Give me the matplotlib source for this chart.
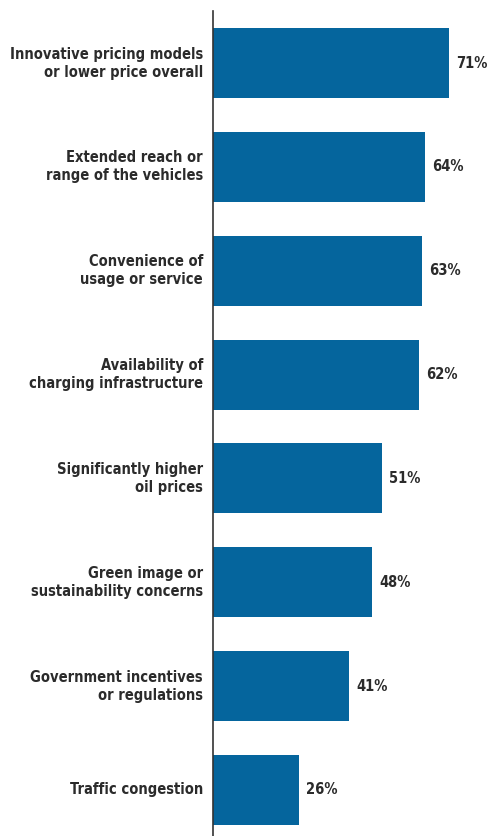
import matplotlib
matplotlib.use("Agg")
import matplotlib.pyplot as plt

# Survey drivers and share of respondents (%)
categories = [
    "Innovative pricing models\nor lower price overall",
    "Extended reach or\nrange of the vehicles",
    "Convenience of\nusage or service",
    "Availability of\ncharging infrastructure",
    "Significantly higher\noil prices",
    "Green image or\nsustainability concerns",
    "Government incentives\nor regulations",
    "Traffic congestion",
]
values = [71, 64, 63, 62, 51, 48, 41, 26]
value_labels = [f"{v}%" for v in values]

BAR = "#05659d"
TEXT = "#2b2b2b"
FONT = dict(family="DejaVu Sans", fontstretch="condensed", fontweight="bold",
            fontsize=10.5, color=TEXT)

W, H = 491, 836
fig = plt.figure(figsize=(W / 100, H / 100), dpi=100)
ax = fig.add_axes([213 / W, 0, (W - 213) / W, (836 - 11) / H])

y = list(range(len(categories)))
ax.barh(y, values, height=0.675, color=BAR, zorder=2)
ax.set_xlim(0, (W - 213) / 3.32)
ax.set_ylim(7.443, -0.5007)

for yi, v, lab, cat in zip(y, values, value_labels, categories):
    ax.text(v + 2.1, yi, lab, va="center", ha="left", **FONT)
    ax.text(-3.0, yi, cat, va="center", ha="right", linespacing=1.25, **FONT)

for s in ("top", "right", "bottom"):
    ax.spines[s].set_visible(False)
ax.spines["left"].set_color("#333333")
ax.spines["left"].set_linewidth(1.2)
ax.set_xticks([])
ax.set_yticks([])

fig.savefig("out.png", dpi=100)
